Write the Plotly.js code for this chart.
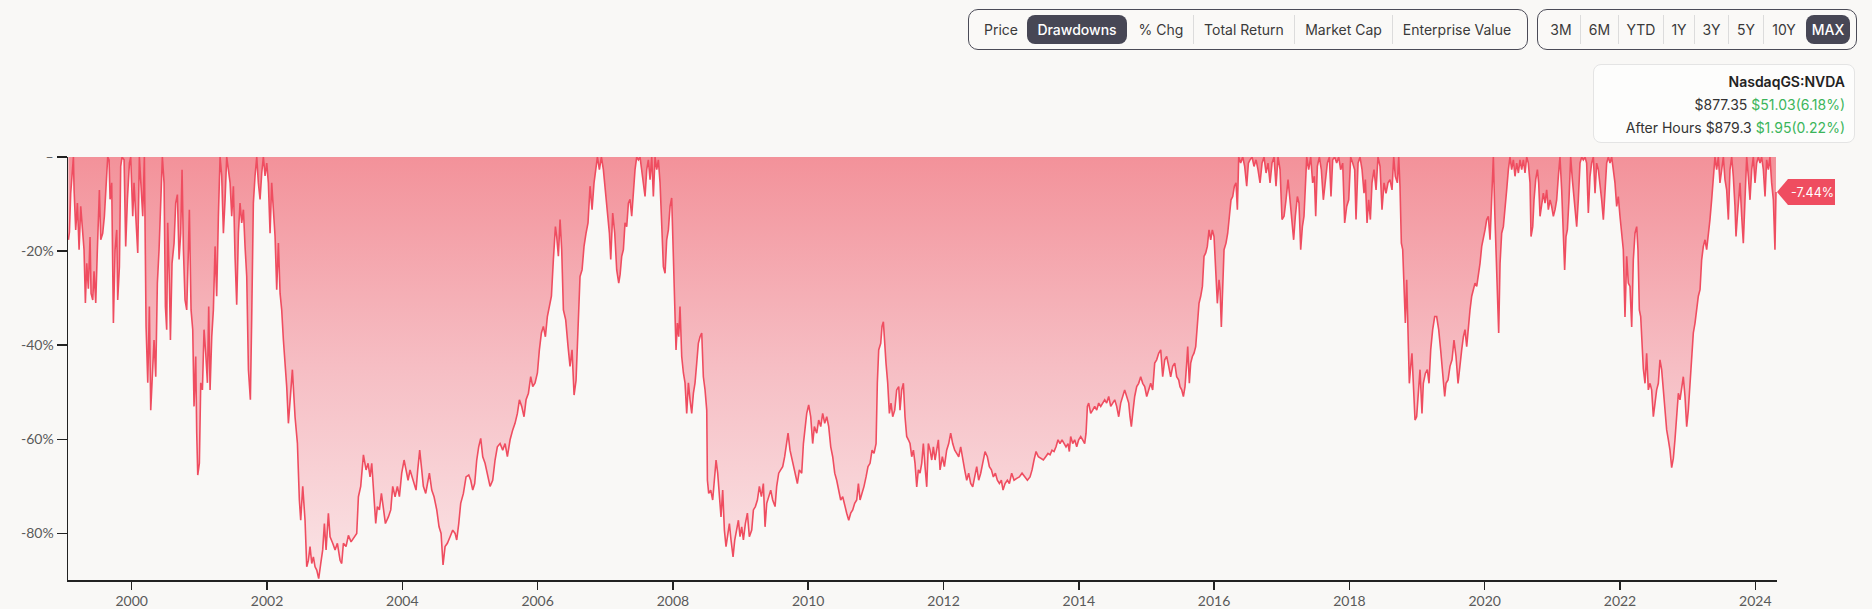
<!DOCTYPE html>
<html>
<head>
<meta charset="utf-8">
<script src="https://cdn.plot.ly/plotly-3.0.1.min.js"></script>
<style>
  html, body { margin: 0; padding: 0; background: #f9f8f6; }
  #wrap { position: relative; width: 1872px; height: 609px; overflow: hidden; background: #f9f8f6; font-family: Inter, "Noto Sans", sans-serif; }
  #chart { position: absolute; left: 0; top: 0; width: 1872px; height: 609px; }
  .grp { position: absolute; top: 9px; height: 41px; border: 1px solid #4b4b57; border-radius: 10px; box-sizing: border-box; background: #faf9f7; }
  .it { position: absolute; top: 0; height: 39px; line-height: 39px; font-size: 14px; color: #3a3a3a; text-align: center; white-space: nowrap; }
  .pill { position: absolute; top: 5px; height: 29px; line-height: 29px; border-radius: 8px; background: #474755; color: #fff; font-size: 14px; text-align: center; font-weight: 500; }
  .div { position: absolute; top: 5px; width: 1px; height: 29px; background: #dcdcdc; }
  #info { position: absolute; left: 1593px; top: 64px; width: 262px; height: 79px; box-sizing: border-box; border: 1px solid #e4e4e4; border-radius: 8px; background: #fdfdfc; text-align: right; padding: 5px 9px 0 0; font-size: 14px; color: #333; line-height: 23px; }
  .g { color: #3bb55b; }
</style>
</head>
<body>
<div id="wrap">
  <div id="chart"></div>
  <div class="grp" style="left:968px;width:560px;">
    <div class="it" style="left:8px;width:48px;">Price</div>
    <div class="pill" style="left:58px;width:100px;">Drawdowns</div>
    <div class="it" style="left:162px;width:60px;">% Chg</div>
    <div class="div" style="left:224px;"></div>
    <div class="it" style="left:226px;width:98px;">Total Return</div>
    <div class="div" style="left:325px;"></div>
    <div class="it" style="left:327px;width:95px;">Market Cap</div>
    <div class="div" style="left:423px;"></div>
    <div class="it" style="left:425px;width:126px;">Enterprise Value</div>
  </div>
  <div class="grp" style="left:1537px;width:320px;">
    <div class="it" style="left:4px;width:38px;">3M</div>
    <div class="div" style="left:42px;"></div>
    <div class="it" style="left:43px;width:37px;">6M</div>
    <div class="div" style="left:80px;"></div>
    <div class="it" style="left:81px;width:44px;">YTD</div>
    <div class="div" style="left:125px;"></div>
    <div class="it" style="left:126px;width:30px;">1Y</div>
    <div class="div" style="left:156px;"></div>
    <div class="it" style="left:157px;width:33px;">3Y</div>
    <div class="div" style="left:190px;"></div>
    <div class="it" style="left:191px;width:34px;">5Y</div>
    <div class="div" style="left:225px;"></div>
    <div class="it" style="left:226px;width:40px;">10Y</div>
    <div class="pill" style="left:268px;width:44px;">MAX</div>
  </div>
  <div id="info">
    <div style="font-weight:600;color:#222;">NasdaqGS:NVDA</div>
    <div>$877.35 <span class="g">$51.03(6.18%)</span></div>
    <div>After Hours $879.3 <span class="g">$1.95(0.22%)</span></div>
  </div>
</div>
<script>
// Drawdown of NVDA from its running all-time high, % (x = decimal year)
const years1999_2003 = [1999.064,1999.079,1999.098,1999.123,1999.138,1999.148,1999.172,1999.197,1999.222,1999.246,1999.271,1999.295,1999.315,1999.335,1999.359,1999.384,1999.399,1999.424,1999.443,1999.468,1999.492,1999.522,1999.542,1999.571,1999.596,1999.621,1999.645,1999.665,1999.680,1999.704,1999.729,1999.754,1999.778,1999.793,1999.818,1999.837,1999.857,1999.887,1999.911,1999.936,1999.966,1999.985,2000.015,2000.034,2000.064,2000.089,2000.113,2000.138,2000.163,2000.187,2000.212,2000.237,2000.261,2000.281,2000.305,2000.330,2000.355,2000.379,2000.404,2000.429,2000.453,2000.478,2000.498,2000.517,2000.532,2000.557,2000.572,2000.596,2000.626,2000.650,2000.675,2000.700,2000.724,2000.744,2000.764,2000.788,2000.813,2000.838,2000.852,2000.877,2000.902,2000.921,2000.946,2000.961,2000.976,2001.000,2001.020,2001.045,2001.069,2001.094,2001.119,2001.138,2001.158,2001.183,2001.207,2001.232,2001.256,2001.281,2001.306,2001.330,2001.355,2001.380,2001.404,2001.429,2001.454,2001.478,2001.503,2001.527,2001.552,2001.577,2001.601,2001.626,2001.651,2001.675,2001.700,2001.725,2001.754,2001.774,2001.798,2001.823,2001.848,2001.872,2001.897,2001.922,2001.946,2001.971,2001.996,2002.020,2002.045,2002.069,2002.094,2002.119,2002.143,2002.168,2002.193,2002.217,2002.242,2002.267,2002.291,2002.316,2002.340,2002.375,2002.414,2002.449,2002.478,2002.498,2002.528,2002.562,2002.587,2002.611,2002.636,2002.661,2002.685,2002.710,2002.735,2002.764,2002.794,2002.823,2002.848,2002.873,2002.907,2002.932,2002.971,2003.006,2003.040];
const dd1999_2003 = [-17.6,-16,-7.7,-3.4,0,-7,-15.5,-9.8,-19.7,-10.5,-16.2,-19.7,-31,-22.6,-28,-17,-29,-30.4,-24.3,-31,-19.7,-7,-17.6,-16.2,-12.6,-4.8,0,-0.6,-9,-5.5,-35.3,-19.7,-15.5,-30.4,-23.3,-2,0,-0.6,-19,-9,-1.3,0,-12.6,-5.5,-12.6,-20.4,0,-7,-12.6,0,-36,-48,-31.8,-53.8,-46.7,-38.9,-46.7,-26.8,-19.7,-9.8,0,-5.5,-31.8,-36.7,-14,-26.8,-38.9,-22.6,-18.3,-9.8,-8,-21.8,-16.2,-2.7,-19.7,-30.4,-32.5,-19.7,-11.2,-32.5,-36.7,-53,-42.4,-58.7,-67.6,-65.1,-48,-49.5,-36.7,-41.7,-48,-31.8,-49.5,-38.2,-32.5,-19,-29.6,-12.6,0,-4,-16.2,-9,0,-2.7,-5.5,-12.6,-6.2,-21.1,-31.4,-16.2,-9.8,-14,-11.2,-19,-25.4,-45.2,-51.6,-33.9,-9.8,-4,0,-5.5,-9,-3.4,0,-4,-1.3,-5.5,-16.2,-5.5,-12.6,-16.9,-28.2,-18.3,-29,-32.5,-38.9,-43.1,-48.8,-56.6,-51.6,-45.2,-55.2,-60.8,-72.9,-77.2,-70,-77.2,-87.1,-85.8,-82.8,-86.4,-85,-87.1,-87.8,-89.6,-86.4,-83.5,-77.9,-83.5,-75.7,-80.7,-82.1,-83.5,-82.1];

const years2003_2007 = [2003.080,2003.104,2003.129,2003.168,2003.203,2003.242,2003.287,2003.326,2003.351,2003.385,2003.425,2003.464,2003.494,2003.523,2003.548,2003.572,2003.607,2003.631,2003.661,2003.691,2003.720,2003.750,2003.794,2003.829,2003.858,2003.893,2003.927,2003.957,2003.991,2004.026,2004.055,2004.085,2004.114,2004.144,2004.174,2004.203,2004.228,2004.257,2004.287,2004.311,2004.346,2004.371,2004.400,2004.435,2004.469,2004.509,2004.543,2004.573,2004.602,2004.632,2004.666,2004.706,2004.745,2004.780,2004.804,2004.834,2004.863,2004.903,2004.942,2004.982,2005.011,2005.041,2005.070,2005.100,2005.129,2005.159,2005.189,2005.223,2005.257,2005.297,2005.336,2005.371,2005.405,2005.445,2005.484,2005.519,2005.553,2005.593,2005.632,2005.666,2005.701,2005.731,2005.765,2005.799,2005.829,2005.864,2005.898,2005.928,2005.962,2005.997,2006.026,2006.056,2006.085,2006.115,2006.144,2006.174,2006.204,2006.233,2006.263,2006.282,2006.307,2006.332,2006.356,2006.381,2006.415,2006.450,2006.479,2006.509,2006.539,2006.568,2006.588,2006.608,2006.627,2006.657,2006.686,2006.716,2006.745,2006.775,2006.805,2006.834,2006.864,2006.884,2006.913,2006.943,2006.972,2007.002,2007.031,2007.061,2007.081,2007.110,2007.140,2007.169,2007.199];
const dd2003_2007 = [-85.7,-86.4,-82.1,-82.8,-80.4,-81.8,-80.7,-80,-72.2,-70,-63.3,-66.5,-65.1,-68,-65.1,-71.5,-77.9,-74.3,-75,-71.5,-75,-77.9,-76.5,-75,-70,-72.2,-70,-72.2,-67.2,-64.4,-66.5,-68.7,-66.5,-68,-69.4,-70.8,-66.5,-62.3,-66.5,-70,-71.5,-69.4,-67.2,-70.8,-72.2,-75,-78.6,-80,-86.7,-82.8,-82.1,-80.7,-79.3,-80,-81.4,-77.9,-73.6,-71.5,-68,-67.6,-68.7,-70.8,-69.4,-64.4,-61.6,-59.8,-63.7,-65.1,-67.2,-70,-68.7,-64.4,-61.6,-60.9,-62.3,-60.9,-63.7,-60.1,-58,-56.6,-54.5,-51.6,-53,-55.2,-51.6,-50.2,-46.7,-48.8,-48,-45.9,-41,-37.4,-36,-38.2,-33.9,-31.8,-29.6,-21.8,-14.8,-16.9,-21.1,-13.3,-19.7,-32.5,-34.6,-40.3,-44.5,-41,-50.6,-47.5,-40.3,-32.5,-25.4,-24,-19,-16.2,-14,-6.2,-11.2,-5.5,-1.3,0,-2.7,0,-2.7,-7,-12.6,-16.2,-21.8,-11.9,-16.2,-24,-26.8];

const years2007_2011 = [2007.219,2007.243,2007.268,2007.292,2007.317,2007.342,2007.366,2007.391,2007.416,2007.440,2007.465,2007.490,2007.514,2007.539,2007.563,2007.588,2007.613,2007.637,2007.662,2007.687,2007.711,2007.736,2007.761,2007.785,2007.810,2007.834,2007.859,2007.884,2007.908,2007.933,2007.958,2007.982,2008.007,2008.022,2008.046,2008.066,2008.086,2008.105,2008.130,2008.155,2008.179,2008.204,2008.229,2008.253,2008.278,2008.303,2008.327,2008.352,2008.376,2008.401,2008.426,2008.450,2008.475,2008.500,2008.510,2008.529,2008.559,2008.588,2008.613,2008.638,2008.662,2008.687,2008.711,2008.736,2008.761,2008.785,2008.810,2008.835,2008.859,2008.889,2008.914,2008.943,2008.968,2008.992,2009.017,2009.042,2009.071,2009.101,2009.130,2009.165,2009.190,2009.219,2009.249,2009.278,2009.308,2009.337,2009.362,2009.387,2009.416,2009.446,2009.475,2009.510,2009.534,2009.564,2009.593,2009.623,2009.652,2009.682,2009.702,2009.731,2009.761,2009.791,2009.820,2009.840,2009.869,2009.904,2009.929,2009.953,2009.978,2010.007,2010.037,2010.066,2010.091,2010.126,2010.155,2010.185,2010.214,2010.244,2010.274,2010.303,2010.333,2010.362,2010.392,2010.421,2010.451,2010.480,2010.510,2010.539,2010.569,2010.599,2010.628,2010.658,2010.687,2010.717,2010.742,2010.766,2010.796,2010.825,2010.855,2010.884,2010.914,2010.944,2010.973,2011.003,2011.022,2011.042,2011.072,2011.091,2011.111,2011.131,2011.150,2011.175,2011.200,2011.224,2011.249,2011.279,2011.308,2011.338];
const dd2007_2011 = [-25,-21.1,-19.7,-14,-14.8,-9.8,-9,-12.6,-7,-2.7,0,-0.6,0,-2.7,-5.5,-8.4,-2.7,-0.6,-4.8,0,-8.4,0,-2.7,-0.6,-5.5,-14.8,-23.3,-24.7,-17.6,-15.5,-10.5,-8.7,-19.7,-31,-41,-35.3,-38.2,-31.8,-42.4,-45.9,-48,-54.5,-48,-51.6,-54.5,-50.2,-48,-43.8,-39.6,-38.2,-37.4,-46.7,-49.5,-53.8,-68.7,-71.5,-70.8,-72.9,-69.4,-64.4,-67.2,-72.2,-76.5,-70.8,-79.3,-82.8,-80,-77.9,-81.4,-85,-81.4,-79.3,-77.2,-80.7,-78.6,-81.4,-77.9,-75.7,-80.7,-79.3,-75,-74.3,-72.9,-70,-72.2,-69.4,-78.6,-73.6,-72.2,-70.8,-72.9,-74.3,-70,-67.2,-66.5,-65.8,-63.7,-60.9,-58.7,-62.3,-64.4,-65.8,-68,-69.4,-66.5,-67.2,-60.9,-58,-54.5,-52.7,-55.2,-60.9,-57.3,-58.7,-55.9,-57.3,-54.5,-56.6,-55.2,-57.3,-61.6,-63.7,-67.2,-68.7,-70.8,-72.9,-72.2,-74.3,-75.7,-77.2,-75.7,-75,-73.6,-72.9,-69.4,-72.9,-71.5,-70,-68,-65.8,-65.1,-62.3,-63,-60.9,-48,-41,-39.6,-36,-35,-41,-43.8,-48,-54.5,-52.3,-55.2,-53.8,-49.5,-48.8];

const years2011_2015 = [2011.357,2011.382,2011.407,2011.431,2011.456,2011.481,2011.505,2011.530,2011.555,2011.579,2011.604,2011.628,2011.653,2011.678,2011.702,2011.727,2011.752,2011.776,2011.801,2011.826,2011.850,2011.875,2011.899,2011.924,2011.949,2011.983,2012.013,2012.047,2012.077,2012.106,2012.136,2012.166,2012.195,2012.225,2012.254,2012.284,2012.313,2012.343,2012.372,2012.402,2012.432,2012.461,2012.491,2012.520,2012.550,2012.579,2012.614,2012.648,2012.678,2012.708,2012.737,2012.767,2012.796,2012.826,2012.855,2012.880,2012.910,2012.944,2012.974,2013.008,2013.043,2013.082,2013.121,2013.161,2013.200,2013.240,2013.279,2013.309,2013.338,2013.368,2013.402,2013.437,2013.476,2013.511,2013.545,2013.575,2013.604,2013.634,2013.663,2013.693,2013.722,2013.752,2013.782,2013.811,2013.841,2013.860,2013.880,2013.910,2013.939,2013.969,2013.998,2014.028,2014.057,2014.087,2014.107,2014.127,2014.146,2014.176,2014.205,2014.235,2014.265,2014.294,2014.324,2014.353,2014.383,2014.412,2014.442,2014.472,2014.501,2014.531,2014.560,2014.590,2014.619,2014.649,2014.678,2014.708,2014.738,2014.757,2014.777,2014.797,2014.826,2014.856,2014.885,2014.915,2014.945,2014.974,2015.004,2015.033,2015.063,2015.092,2015.122,2015.151,2015.181,2015.211,2015.240,2015.270,2015.299,2015.329,2015.358,2015.388,2015.418,2015.447,2015.477];
const dd2011_2015 = [-53.8,-49.5,-48.1,-55.2,-59.4,-60.1,-60.9,-63.7,-62.3,-65.1,-70.1,-66.5,-67.2,-65.1,-60.9,-65.8,-70.1,-60.9,-62.3,-64.4,-61.6,-64.4,-62.3,-60.1,-66.5,-63.7,-65.8,-62.3,-60.9,-58.7,-60.9,-62.3,-63,-63.7,-61.6,-64.4,-66.5,-68.7,-67.2,-69.4,-70.1,-68,-65.8,-68.7,-67.2,-65.1,-62.6,-63.7,-65.8,-66.5,-68,-67.2,-68.7,-69.4,-68.7,-70.8,-69.4,-68.7,-69.4,-67.2,-68.7,-68.3,-68,-67.2,-68,-68.7,-68,-66.5,-64.4,-62.6,-63.7,-64,-64.4,-63.7,-63,-63.3,-62.3,-62.6,-61.6,-60.1,-60.9,-60.1,-60.9,-61.6,-60.9,-62.6,-59.4,-60.9,-60.1,-61.6,-60.1,-59.4,-60.1,-60.9,-58.7,-53,-52.3,-54.5,-53.8,-53,-53.8,-52.3,-53,-52.3,-51.6,-52.3,-50.9,-53,-52.3,-51.6,-53,-55.2,-52.3,-50.9,-49.5,-50.9,-52.3,-55.2,-57.3,-54.5,-50.9,-48.8,-48.1,-46.7,-48.1,-48.8,-50.9,-49.5,-48.1,-49.5,-43.8,-43.1,-41.7,-41,-46.7,-43.1,-42.4,-44.5,-46.7,-44.5,-43.8,-46.7,-47.4];

const years2015_2019 = [2015.496,2015.521,2015.546,2015.570,2015.595,2015.610,2015.634,2015.654,2015.679,2015.703,2015.728,2015.753,2015.777,2015.802,2015.827,2015.851,2015.876,2015.900,2015.925,2015.950,2015.974,2015.999,2016.024,2016.048,2016.073,2016.088,2016.107,2016.127,2016.147,2016.176,2016.201,2016.226,2016.250,2016.275,2016.300,2016.324,2016.344,2016.364,2016.393,2016.423,2016.452,2016.482,2016.507,2016.531,2016.561,2016.590,2016.620,2016.649,2016.679,2016.709,2016.738,2016.768,2016.797,2016.827,2016.856,2016.886,2016.915,2016.945,2016.975,2017.004,2017.034,2017.063,2017.093,2017.122,2017.152,2017.176,2017.201,2017.231,2017.255,2017.280,2017.305,2017.329,2017.354,2017.369,2017.398,2017.428,2017.457,2017.482,2017.502,2017.526,2017.556,2017.585,2017.615,2017.644,2017.674,2017.704,2017.728,2017.753,2017.782,2017.812,2017.842,2017.871,2017.901,2017.930,2017.960,2017.990,2018.019,2018.049,2018.078,2018.098,2018.128,2018.157,2018.187,2018.216,2018.236,2018.261,2018.285,2018.310,2018.334,2018.364,2018.394,2018.423,2018.453,2018.482,2018.512,2018.541,2018.571,2018.600,2018.630,2018.655,2018.679,2018.709,2018.729,2018.748,2018.768,2018.788,2018.807,2018.827,2018.847,2018.866,2018.886,2018.906,2018.925,2018.945,2018.970,2018.994,2019.019,2019.044,2019.073,2019.093,2019.123,2019.152,2019.177,2019.202,2019.231,2019.261,2019.290,2019.320,2019.349,2019.379,2019.409,2019.428,2019.458,2019.487,2019.517,2019.546,2019.576,2019.606,2019.635];
const dd2015_2019 = [-48.8,-49.5,-50.9,-48.8,-43.8,-40.3,-48.1,-43.8,-42.4,-41.7,-40.3,-36.1,-31.1,-29.6,-27.5,-21.1,-20.4,-19,-15.5,-17.6,-15.5,-16.9,-24.7,-31.1,-26.1,-28.2,-36.1,-26.8,-19.7,-18.3,-16.2,-12.6,-9.1,-8.4,-6.2,-5.5,-11.2,0,-1.3,0,-2,-6.2,-1.3,-0.6,0,-2,-0.6,-2.7,-5.5,-1.3,0,-3.4,-1.3,-5.5,-1.3,0,-6.2,0,-2.7,-13.3,-12.6,-9.1,-4.8,-9.1,-14,-17.6,-12.6,-8.4,-9.8,-19.7,-14.8,-12.6,-4.8,0,-2.7,0,-5.5,-4.1,-12.6,-2,0,-2.7,-9.1,-4.8,-1.3,0,-8.4,-0.6,0,-1.3,0,-2.7,-1.3,-14,-10.5,-9.1,0,-1.3,-2.7,-13.3,-1.3,0,-2.7,-7.7,-4.8,-14,-9.1,-13.3,-5.5,-2.7,-7,0,-2,-11.2,-5.5,-7.7,-5.5,-4.8,-7,0,-4.1,-5.5,0,-6.2,-18.3,-19.7,-26.8,-35.3,-26.1,-38.2,-48.1,-44.5,-41.7,-48.1,-55.9,-55.2,-49.5,-45.2,-54.5,-48.1,-46,-45.2,-48.1,-41,-36.7,-33.9,-33.9,-36.7,-41,-45.9,-50.9,-48.1,-47.4,-44.5,-43.1,-38.9,-42.4,-48.1,-43.8];

const years2019_2024 = [2019.660,2019.685,2019.709,2019.734,2019.759,2019.783,2019.808,2019.832,2019.857,2019.882,2019.906,2019.931,2019.956,2019.980,2020.005,2020.030,2020.054,2020.079,2020.103,2020.128,2020.148,2020.168,2020.187,2020.207,2020.227,2020.251,2020.276,2020.301,2020.325,2020.350,2020.374,2020.399,2020.424,2020.448,2020.473,2020.498,2020.522,2020.547,2020.572,2020.596,2020.621,2020.645,2020.670,2020.685,2020.710,2020.729,2020.754,2020.779,2020.798,2020.818,2020.843,2020.867,2020.892,2020.916,2020.941,2020.966,2020.990,2021.015,2021.040,2021.064,2021.089,2021.113,2021.138,2021.163,2021.182,2021.202,2021.222,2021.246,2021.271,2021.296,2021.320,2021.340,2021.360,2021.384,2021.409,2021.434,2021.458,2021.483,2021.507,2021.532,2021.557,2021.581,2021.606,2021.631,2021.655,2021.680,2021.704,2021.729,2021.754,2021.778,2021.803,2021.828,2021.852,2021.877,2021.902,2021.926,2021.951,2021.975,2022.000,2022.025,2022.049,2022.074,2022.099,2022.123,2022.148,2022.173,2022.197,2022.222,2022.247,2022.266,2022.286,2022.306,2022.325,2022.345,2022.370,2022.394,2022.419,2022.444,2022.468,2022.493,2022.518,2022.542,2022.567,2022.591,2022.616,2022.641,2022.665,2022.690,2022.715,2022.739,2022.764,2022.789,2022.813,2022.838,2022.863,2022.887,2022.912,2022.936,2022.961,2022.986,2023.010,2023.035,2023.060,2023.084,2023.109,2023.134,2023.158,2023.183,2023.207,2023.232,2023.257,2023.281,2023.306,2023.330,2023.355,2023.380,2023.404,2023.429,2023.454,2023.478,2023.503,2023.528,2023.552,2023.577,2023.602,2023.626,2023.651,2023.675,2023.700,2023.715,2023.735,2023.754,2023.774,2023.799,2023.823,2023.848,2023.873,2023.897,2023.922,2023.947,2023.971,2023.996,2024.020,2024.045,2024.070,2024.094,2024.119,2024.144,2024.168,2024.193,2024.217,2024.242,2024.267,2024.291,2024.306];
const dd2019_2024 = [-41,-38.2,-36.7,-40.3,-35.3,-32.5,-29.6,-28.2,-26.8,-27.5,-25.4,-22.6,-19,-17.6,-15.5,-13.3,-12.6,-17.6,-10.5,0,-11.2,-19.7,-25.4,-37.4,-22.6,-16.2,-14.8,-9.8,-7,-2.7,0,-2.7,-0.6,-4.1,-1.3,-3.4,-0.6,-2.7,-0.6,-3.4,0,-1.3,-5.5,-16.9,-14.8,-9.1,-4.8,-2.7,-5.5,-12.6,-10.5,-7.7,-9.8,-7,-11.2,-9.1,-10.5,-12.6,-11.2,-9.1,-4.1,0,-7,-17.6,-24,-16.9,-15.5,-9.1,0,-4.8,-8.4,-12.6,-14.8,-9.1,-1.3,0,-0.6,0,-1.3,-11.9,-4.1,-1.3,0,-7.7,-1.3,-2.7,-5.5,-9.1,-13.3,-7,-1.3,0,-1.3,0,-2.7,-5.5,-10.5,-8.4,-12.6,-16.2,-19.7,-34,-21.1,-26.8,-27.5,-36.1,-21.9,-16.2,-14.8,-19.7,-32.5,-33.9,-41,-45,-48.1,-41.7,-49.5,-48.1,-49.5,-55.2,-52.3,-49.5,-48.1,-43.1,-45.2,-49.5,-53.8,-58,-60.1,-62.3,-66,-64,-60,-55.2,-50.2,-51.6,-48.8,-46.7,-50.9,-57.3,-53.8,-48.1,-42.9,-37.4,-35.3,-31.8,-29.6,-28.2,-21.9,-19,-17.6,-19.7,-16.9,-13.3,-9.1,-4.1,0,-2.7,0,-5.5,-2.7,0,-4.8,-7,-13.3,-2.7,0,-4.1,-10.5,-16.9,-12.6,-9.1,-5.5,-12.6,-18.3,-9.1,0,-4.1,-9.1,-2.7,0,-5.5,-1.3,0,-1.3,0,-2.7,-8.4,-0.6,-2.7,0,-5.5,-9.1,-19.7,-7.44];

const xTickVals = [2000, 2002, 2004, 2006, 2008, 2010, 2012, 2014, 2016, 2018, 2020, 2022, 2024];
const xTickText = ['2000', '2002', '2004', '2006', '2008', '2010', '2012', '2014', '2016', '2018', '2020', '2022', '2024'];
const yTickVals = [0, -20, -40, -60, -80];
const yTickText = ['–', '-20%', '-40%', '-60%', '-80%'];
const lastLabel = '-7.44%';

const xs = [].concat(years1999_2003, years2003_2007, years2007_2011, years2011_2015, years2015_2019, years2019_2024);
const ys = [].concat(dd1999_2003, dd2003_2007, dd2007_2011, dd2011_2015, dd2015_2019, dd2019_2024);
const lastY = ys[ys.length - 1];

const red = '#ef4d60';
const trace = {
  x: xs, y: ys, type: 'scatter', mode: 'lines',
  line: { color: red, width: 1.6 },
  fill: 'tozeroy',
  fillgradient: { type: 'vertical', colorscale: [[0, 'rgb(250,228,230)'], [0.5, 'rgb(246,190,196)'], [1, 'rgb(243,146,154)']] },
  hoverinfo: 'skip'
};

const tickFont = { family: 'Lato, "Noto Sans", sans-serif', size: 14, color: '#5a5a5a' };
const layout = {
  width: 1872, height: 609,
  margin: { l: 68, r: 95, t: 157, b: 29 },
  paper_bgcolor: 'rgba(0,0,0,0)', plot_bgcolor: 'rgba(0,0,0,0)',
  showlegend: false,
  xaxis: {
    type: 'linear', range: [1999.058, 2024.321],
    tickvals: xTickVals, ticktext: xTickText,
    showgrid: false, zeroline: false,
    showline: true, linecolor: '#222', linewidth: 1.5,
    ticks: 'outside', ticklen: 8, tickwidth: 1.5, tickcolor: '#222',
    tickfont: tickFont, fixedrange: true
  },
  yaxis: {
    range: [-89.9, 0],
    tickvals: yTickVals, ticktext: yTickText,
    showgrid: false, zeroline: false,
    showline: true, linecolor: '#222', linewidth: 1.5,
    ticks: 'outside', ticklen: 10, tickwidth: 1.5, tickcolor: '#222',
    tickfont: tickFont, fixedrange: true
  },
  shapes: [{
    type: 'path', xref: 'paper', yref: 'y',
    xsizemode: 'pixel', ysizemode: 'pixel', xanchor: 1, yanchor: lastY,
    path: 'M 0 0 L 11 13 L 58 13 L 58 -13 L 11 -13 Z',
    fillcolor: red, line: { width: 0 }, layer: 'above'
  }],
  annotations: [{
    xref: 'paper', yref: 'y', x: 1, y: lastY, xanchor: 'center', yanchor: 'middle',
    xshift: 35, showarrow: false, text: lastLabel,
    font: { family: 'Inter, "Noto Sans", sans-serif', size: 12.5, color: '#ffffff' }
  }]
};

Plotly.newPlot('chart', [trace], layout, { displayModeBar: false, staticPlot: true });
</script>
</body>
</html>
